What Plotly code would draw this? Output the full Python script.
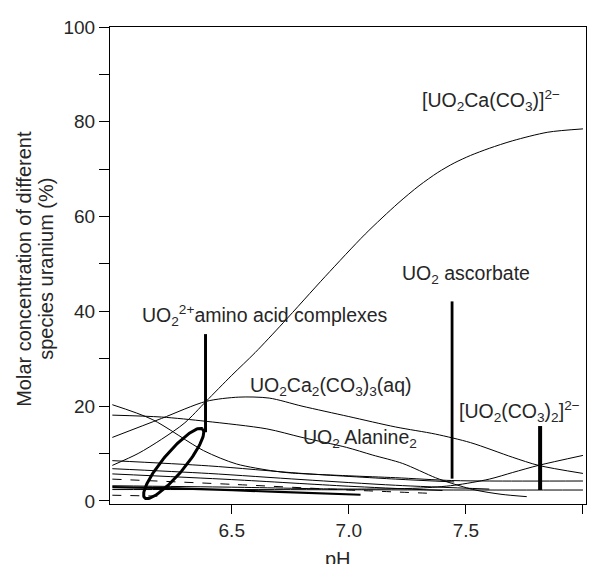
import numpy as np
import plotly.graph_objects as go

# ---- data ----
ph_ca1 = [5.99, 6.1, 6.2, 6.3, 6.39, 6.5, 6.6, 6.72, 6.9, 7.07, 7.21, 7.3, 7.38, 7.45, 7.52, 7.6, 7.7, 7.85, 8.0]
val_ca1 = [7.5, 10.0, 13.0, 16.5, 21.0, 26.5, 31.3, 37.6, 47.4, 56.3, 62.8, 66.5, 69.3, 71.3, 72.9, 74.4, 76.0, 77.8, 78.5]

ph_ca2 = [5.99, 6.2, 6.39, 6.53, 6.66, 6.8, 7.0, 7.2, 7.37, 7.52, 7.7, 7.81, 8.0]
val_ca2 = [13.4, 17.4, 21.0, 21.9, 21.7, 20.0, 17.8, 15.6, 14.1, 12.3, 9.2, 7.5, 5.8]

ph_ala = [5.99, 6.2, 6.39, 6.65, 6.8, 6.99, 7.1, 7.23, 7.37, 7.44, 7.54, 7.65, 7.76]
val_ala = [18.1, 17.7, 16.8, 15.2, 13.4, 11.3, 9.7, 7.9, 4.9, 3.7, 2.3, 1.4, 0.9]

ph_d20 = [5.99, 6.16, 6.38, 6.52, 6.68, 6.75, 7.0, 7.2, 7.44, 7.6, 8.0]
val_d20 = [20.3, 17.2, 10.6, 7.8, 6.3, 5.9, 5.3, 4.9, 4.3, 4.2, 4.2]

ph_rise = [5.99, 6.5, 7.0, 7.3, 7.45, 7.6, 7.7, 7.81, 8.0]
val_rise = [3.2, 2.9, 2.5, 2.7, 3.3, 4.6, 6.0, 7.5, 9.6]

ph_flat = [5.99, 6.5, 7.0, 7.5, 8.0]
val_flat = [2.4, 2.4, 2.35, 2.3, 2.3]

low_ph = [
    [5.99, 6.4, 6.8, 7.2, 7.45],
    [5.99, 6.4, 6.8, 7.2, 7.6],
    [5.99, 6.5, 7.0, 7.4],
    [5.99, 6.5, 7.0, 7.35],
    [5.99, 6.3, 6.7, 7.05],
    [5.99, 6.2],
]
low_val = [
    [8.5, 7.4, 5.8, 4.6, 4.0],
    [6.8, 5.8, 4.5, 3.3, 2.5],
    [5.7, 4.5, 3.1, 2.2],
    [4.6, 3.5, 2.3, 1.6],
    [2.9, 2.6, 1.9, 1.3],
    [1.2, 1.0],
]
low_dash = ["solid", "solid", "solid", "dash", "solid", "dash"]
low_width = [1, 1, 1, 1, 2.2, 1]

# vertical marker bars: (pH, bottom %, top %)
bar_ph = [6.388, 7.441, 7.817]
bar_lo = [14.5, 4.7, 2.3]
bar_hi = [35.2, 42.1, 15.8]
bar_w = [3, 2.8, 4]

# highlighted ellipse (centre, half major axis vector, half minor axis vector) in data units
ell_center = (6.252, 7.9)
ell_major = (0.1234, 7.28)
ell_minor = (0.036, -1.46)

x_ticks = [6.5, 7.0, 7.5, 8.0]
x_ticktext = ["6.5", "7.0", "7.5", "8.0"]
y_ticks = [0, 20, 40, 60, 80, 100]
y_minor = [10, 30, 50, 70, 90]

FONT = "Liberation Sans, Arial, Helvetica, sans-serif"
TXT = "#262626"

fig = go.Figure()

def add_line(x, y, width=1, dash="solid", shape="spline"):
    fig.add_trace(go.Scatter(x=x, y=y, mode="lines",
                             line=dict(color="black", width=width, dash=dash, shape=shape, smoothing=0.8),
                             hoverinfo="skip", showlegend=False))

add_line(ph_ca1, val_ca1)
add_line(ph_ca2, val_ca2)
add_line(ph_ala, val_ala)
add_line(ph_d20, val_d20)
add_line(ph_rise, val_rise)
add_line(ph_flat, val_flat)
for xs, ys, d, w in zip(low_ph, low_val, low_dash, low_width):
    add_line(xs, ys, width=w, dash=d)

for bx, lo, hi, w in zip(bar_ph, bar_lo, bar_hi, bar_w):
    add_line([bx, bx], [lo, hi], width=w, shape="linear")

t = np.linspace(0, 2 * np.pi, 120)
ex = ell_center[0] + ell_major[0] * np.cos(t) + ell_minor[0] * np.sin(t)
ey = ell_center[1] + ell_major[1] * np.cos(t) + ell_minor[1] * np.sin(t)
add_line(ex, ey, width=3, shape="linear")

annots = [
    ("[UO<sub>2</sub>Ca(CO<sub>3</sub>)]<sup>2−</sup>", 7.606, 84.4),
    ("UO<sub>2</sub> ascorbate", 7.499, 47.8),
    ("UO<sub>2</sub><sup>2+</sup>amino acid complexes", 6.644, 39.1),
    ("UO<sub>2</sub>Ca<sub>2</sub>(CO<sub>3</sub>)<sub>3</sub>(aq)", 6.925, 24.1),
    ("UO<sub>2</sub> Alanine<sub>2</sub>", 7.048, 13.1),
    ("[UO<sub>2</sub>(CO<sub>3</sub>)<sub>2</sub>]<sup>2−</sup>", 7.729, 18.9),
]
for text, ax_, ay_ in annots:
    fig.add_annotation(x=ax_, y=ay_, xref="x", yref="y", text=text, showarrow=False,
                       font=dict(family=FONT, size=19.5, color=TXT))

# axis titles as annotations
fig.add_annotation(x=0, y=0.493, xref="paper", yref="paper", xanchor="center", yanchor="middle",
                   xshift=-86, text="Molar concentration of different",
                   textangle=-90, showarrow=False, font=dict(family=FONT, size=20, color=TXT))
fig.add_annotation(x=0, y=0.493, xref="paper", yref="paper", xanchor="center", yanchor="middle",
                   xshift=-64, text="species uranium (%)",
                   textangle=-90, showarrow=False, font=dict(family=FONT, size=20, color=TXT))
fig.add_annotation(x=0.478, y=0, xref="paper", yref="paper", xanchor="center", yanchor="top",
                   yshift=-42, text="pH",
                   showarrow=False, font=dict(family=FONT, size=20, color=TXT))

fig.update_layout(
    width=588, height=556, autosize=False,
    margin=dict(l=102, r=9, t=11, b=60, pad=0),
    paper_bgcolor="white", plot_bgcolor="white",
    showlegend=False,
    font=dict(family=FONT, size=19, color=TXT),
)
fig.update_xaxes(range=[5.98, 8.013], tickvals=x_ticks, ticktext=x_ticktext,
                 showgrid=False, zeroline=False, showline=True, linecolor="black", linewidth=1.2,
                 mirror=True, ticks="outside", ticklen=9, tickwidth=1.2, tickcolor="black",
                 tickfont=dict(family=FONT, size=19, color=TXT))
fig.update_yaxes(range=[-0.65, 100], tickvals=y_ticks,
                 showgrid=False, zeroline=False, showline=True, linecolor="black", linewidth=1.2,
                 mirror=True, ticks="outside", ticklen=10, tickwidth=1.2, tickcolor="black",
                 minor=dict(tickvals=y_minor, ticks="outside", ticklen=10, tickwidth=1.2, tickcolor="black"),
                 tickfont=dict(family=FONT, size=19, color=TXT))

fig.write_html("out.html")
